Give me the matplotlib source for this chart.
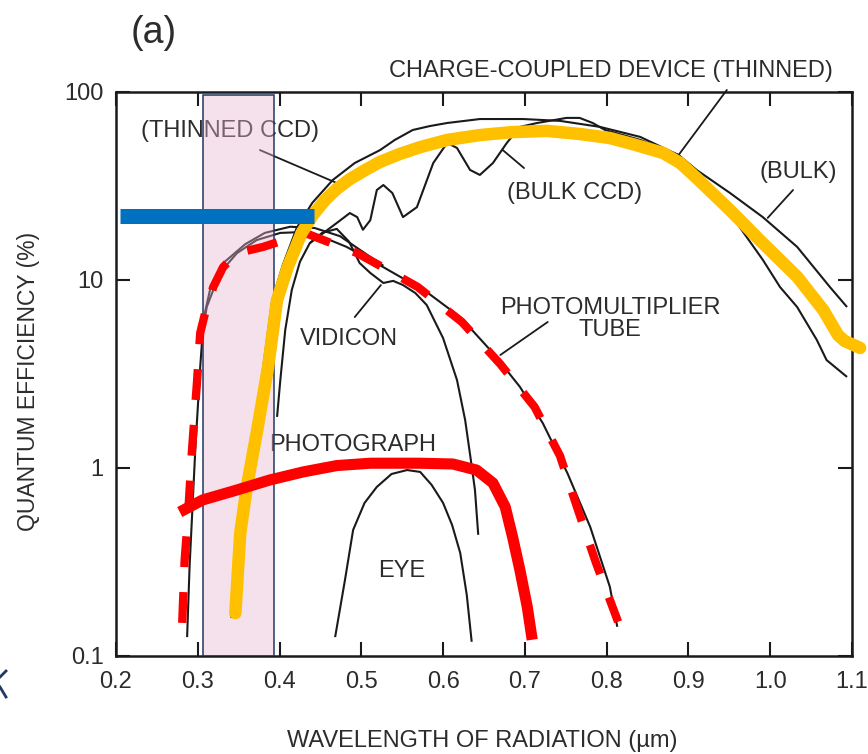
import numpy as np
import matplotlib.pyplot as plt
from matplotlib.patches import Rectangle
from matplotlib.lines import Line2D

plt.rcParams['font.family'] = ['Liberation Sans', 'DejaVu Sans']

# --- original detector curves (black) : wavelength (um), QE (%) ---
thinned_wl = [0.341, 0.347, 0.355, 0.368, 0.380, 0.391, 0.404, 0.421, 0.440, 0.465, 0.492, 0.523, 0.541,
              0.563, 0.584, 0.605, 0.645, 0.698, 0.743, 0.792, 0.841, 0.888, 0.939, 0.991, 1.012, 1.033,
              1.057, 1.069, 1.094]
thinned_qe = [0.159, 0.414, 0.793, 1.53, 3.44, 7.83, 12.0, 18.9, 25.7, 34.0, 41.9, 49.1, 55.6,
              62.8, 65.9, 68.4, 71.8, 71.8, 70.2, 65.2, 57.7, 46.2, 26.7, 12.8, 9.18, 7.18,
              4.80, 3.75, 3.05]

bulk_wl = [0.437, 0.470, 0.486, 0.495, 0.502, 0.511, 0.519, 0.527, 0.538, 0.551, 0.568, 0.588, 0.605, 0.617,
           0.633, 0.645, 0.661, 0.678, 0.694, 0.715, 0.751, 0.767, 0.783, 0.798, 0.841, 0.888, 0.910, 0.951,
           0.991, 1.033, 1.073, 1.094]
bulk_qe = [15.7, 20.1, 22.7, 21.6, 18.5, 20.8, 30.1, 32.0, 29.0, 21.6, 24.4, 41.9, 53.6, 50.4,
           38.5, 36.2, 41.9, 53.6, 65.2, 68.4, 72.8, 72.8, 68.4, 62.8, 55.6, 46.2, 38.5, 29.0,
           21.6, 15.0, 9.18, 7.18]

vidicon_wl = [0.397, 0.401, 0.407, 0.415, 0.425, 0.437, 0.452, 0.470, 0.485, 0.498, 0.511, 0.527, 0.539,
              0.551, 0.566, 0.580, 0.600, 0.617, 0.627, 0.634, 0.639, 0.643]
vidicon_qe = [1.87, 2.94, 5.42, 8.85, 12.5, 15.7, 17.8, 18.7, 16.0, 12.3, 10.9, 9.64, 9.89,
              9.40, 8.53, 7.36, 4.91, 2.94, 1.80, 1.10, 0.764, 0.441]

pmt_wl = [0.287, 0.290, 0.297, 0.303, 0.306, 0.311, 0.327, 0.348, 0.372, 0.401, 0.429, 0.453, 0.482,
          0.511, 0.527, 0.580, 0.621, 0.661, 0.694, 0.722, 0.752, 0.780, 0.804, 0.813]
pmt_qe = [0.126, 0.297, 1.25, 3.44, 5.22, 7.18, 10.9, 13.9, 16.3, 17.8, 18.0, 16.9, 15.0,
          12.8, 11.7, 8.63, 6.35, 4.09, 2.70, 1.73, 0.940, 0.485, 0.233, 0.143]

pmt2_wl = [0.304, 0.315, 0.333, 0.358, 0.382, 0.413, 0.443, 0.474, 0.498, 0.527]
pmt2_qe = [5.42, 8.85, 12.5, 15.5, 17.8, 19.2, 18.9, 17.1, 14.5, 11.9]

eye_wl = [0.468, 0.480, 0.490, 0.504, 0.519, 0.537, 0.556, 0.572, 0.586, 0.600, 0.611, 0.621, 0.629, 0.635]
eye_qe = [0.126, 0.253, 0.468, 0.652, 0.793, 0.929, 0.975, 0.953, 0.813, 0.652, 0.498, 0.353, 0.211, 0.119]

# --- coloured overlays ---
ccd_wl = [0.346, 0.352, 0.360, 0.372, 0.386, 0.397, 0.410, 0.427, 0.441, 0.456, 0.470, 0.486, 0.505,
          0.523, 0.547, 0.572, 0.605, 0.645, 0.685, 0.727, 0.767, 0.804, 0.832, 0.869, 0.890, 0.910,
          0.951, 0.991, 1.033, 1.065, 1.083, 1.091, 1.110]
ccd_qe = [0.169, 0.451, 0.793, 1.53, 3.44, 7.83, 11.7, 17.8, 22.2, 26.7, 30.5, 34.4, 38.5,
          42.5, 46.8, 50.9, 55.6, 59.0, 61.2, 62.1, 59.8, 56.9, 52.8, 47.4, 41.9, 34.9,
          23.5, 15.7, 10.4, 6.92, 5.09, 4.74, 4.35]

pm_wl = [0.281, 0.284, 0.288, 0.293, 0.299, 0.303, 0.309, 0.319, 0.331, 0.348, 0.380, 0.413, 0.434,
         0.465, 0.495, 0.526, 0.569, 0.623, 0.670, 0.712, 0.743, 0.765, 0.787, 0.814]
pm_qe = [0.150, 0.324, 0.548, 1.25, 2.83, 5.22, 6.67, 9.18, 11.7, 13.9, 15.0, 16.7, 17.6,
         15.6, 13.9, 11.7, 9.18, 5.98, 3.57, 2.11, 1.16, 0.598, 0.313, 0.152]

photo_wl = [0.278, 0.306, 0.348, 0.388, 0.429, 0.470, 0.511, 0.572, 0.612, 0.641, 0.661, 0.676,
            0.685, 0.694, 0.703, 0.709]
photo_qe = [0.583, 0.676, 0.764, 0.863, 0.953, 1.03, 1.06, 1.06, 1.05, 0.975, 0.832, 0.621,
            0.430, 0.286, 0.182, 0.122]

level_wl = [0.205, 0.442]
level_qe = 21.8

band_wl = (0.306, 0.393)
band_top = 96

xticks = [0.2, 0.3, 0.4, 0.5, 0.6, 0.7, 0.8, 0.9, 1.0, 1.1]
xtick_labels = ['0.2', '0.3', '0.4', '0.5', '0.6', '0.7', '0.8', '0.9', '1.0', '1.1']
yticks = [0.1, 1, 10, 100]
ytick_labels = ['0.1', '1', '10', '100']

ink = '#1a1a1a'
txt = '#2c2c2c'

fig = plt.figure(figsize=(8.68, 7.54), dpi=100)
ax = fig.add_axes([0.1336, 0.1300, 0.8479, 0.7480])

blk = dict(color=ink, lw=1.5, zorder=2, solid_capstyle='butt', solid_joinstyle='round')
ax.plot(thinned_wl, thinned_qe, **blk)
ax.plot(bulk_wl, bulk_qe, **blk)
ax.plot(vidicon_wl, vidicon_qe, **blk)
ax.plot(pmt_wl, pmt_qe, **blk)
ax.plot(pmt2_wl, pmt2_qe, **blk)
ax.plot(eye_wl, eye_qe, **blk)

# labels and leader lines
lab = dict(fontsize=17, color=txt, ha='center', va='center', zorder=3)
ax.text(0.339, 62.1, '(THINNED CCD)', **lab)
ax.text(0.761, 29.0, '(BULK CCD)', **lab)
ax.text(1.034, 37.5, '(BULK)', **lab)
ax.text(0.804, 6.2, 'PHOTOMULTIPLIER\nTUBE', linespacing=1.0, **lab)
ax.text(0.485, 4.85, 'VIDICON', **lab)
ax.text(0.489, 1.32, 'PHOTOGRAPH', **lab)
ax.text(0.550, 0.283, 'EYE', **lab)
ax.text(0.805, 129, 'CHARGE-COUPLED DEVICE (THINNED)', clip_on=False, **lab)

leaders = [((0.376, 49.1), (0.470, 32.8)),
           ((0.699, 39.4), (0.673, 49.1)),
           ((0.947, 102.5), (0.888, 46.2)),
           ((1.028, 30.1), (0.997, 21.4)),
           ((0.728, 5.98), (0.670, 3.99)),
           ((0.492, 6.35), (0.524, 9.40))]
for start, end in leaders:
    ax.annotate('', xy=end, xytext=start, annotation_clip=False,
                arrowprops=dict(arrowstyle='-', color=ink, lw=1.3, shrinkA=0, shrinkB=0), zorder=2)

# highlighted band
ax.add_patch(Rectangle((band_wl[0], 0.1), band_wl[1] - band_wl[0], band_top - 0.1,
                       facecolor=(0.91, 0.71, 0.82, 0.40), edgecolor='#1F3864', lw=1.1, zorder=4))

ax.plot(pm_wl, pm_qe, color='#FF0000', lw=6, linestyle=(0, (3.7, 3.0)), dash_capstyle='butt', zorder=5)
ax.plot(ccd_wl, ccd_qe, color='#FFC000', lw=9, solid_capstyle='round', solid_joinstyle='round',
        zorder=6, clip_on=False)
ax.plot(photo_wl, photo_qe, color='#FF0000', lw=8, solid_capstyle='butt', solid_joinstyle='round', zorder=7)
ax.plot(level_wl, [level_qe, level_qe], color='#0070C0', lw=10.8, solid_capstyle='butt', zorder=8)

ax.set_yscale('log')
ax.set_xlim(0.2, 1.1)
ax.set_ylim(0.1, 100)
ax.set_xticks(xticks, labels=xtick_labels)
ax.set_yticks(yticks, labels=ytick_labels)
ax.yaxis.set_minor_locator(plt.NullLocator())
ax.tick_params(direction='in', top=True, right=True, length=10, width=1.5, color=ink,
               labelsize=17, labelcolor=txt)
ax.tick_params(axis='x', pad=11)
ax.tick_params(axis='y', pad=9)
for s in ax.spines.values():
    s.set_linewidth(1.8)
    s.set_color(ink)

fig.text(154 / 868, 1 - 33 / 754, '(a)', fontsize=27, color=txt, ha='center', va='center')
fig.text(482 / 868, 1 - 741 / 754, 'WAVELENGTH OF RADIATION (\u00b5m)', fontsize=17, color=txt,
         ha='center', va='center')
fig.text(29 / 868, 1 - 381 / 754, 'QUANTUM EFFICIENCY (%)', fontsize=16.5, color=txt,
         ha='center', va='center', rotation=90)

# stray chevron at the left edge of the original slide
fig.add_artist(Line2D([0 / 868, 6 / 868], [1 - 677 / 754, 1 - 671 / 754], color='#1F3864', lw=2))
fig.add_artist(Line2D([0 / 868, 6 / 868], [1 - 687 / 754, 1 - 697 / 754], color='#1F3864', lw=2))

fig.savefig('out.png', dpi=100)
